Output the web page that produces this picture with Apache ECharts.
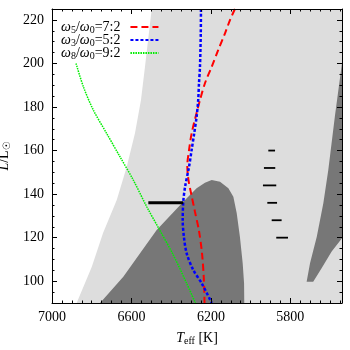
<!DOCTYPE html>
<html><head><meta charset="utf-8">
<script src="https://cdn.jsdelivr.net/npm/echarts@6/dist/echarts.min.js"></script>
<style>html,body{margin:0;padding:0;background:#fff}#c{width:350px;height:350px}</style>
</head><body><div id="c"></div>
<script>
// axis ranges and tick labels
const T_HOT = 7000, T_COOL = 5540;
const L_MIN = 90, L_MAX = 225;
const xTickLabels = [7000, 6600, 6200, 5800];
const yTickLabels = [100, 120, 140, 160, 180, 200, 220];

// light grey region: its left (hot) edge, top to bottom
const lightEdgeTeff = [6498, 6532, 6552, 6582, 6624, 6674, 6743, 6800, 6876];
const lightEdgeLum  = [225, 198.4, 183.2, 168.1, 152.4, 137.3, 122.1, 106.5, 90];

// dark grey central region
const blobTeff = [6758, 6641, 6473, 6339, 6272, 6230, 6196, 6154, 6112, 6087, 6070, 6054, 6040, 6033, 6032];
const blobLum  = [90, 102.1, 123.5, 136.5, 142.7, 145.2, 146.5, 145.7, 142.7, 138.8, 131.2, 120.4, 108.2, 99, 90];

// dark grey right wedge
const wedgeTeff = [5540, 5575, 5609, 5634, 5667, 5701, 5718, 5685, 5642, 5592, 5540];
const wedgeLum  = [200.2, 176.3, 151.1, 135.8, 120.4, 108.2, 99.8, 99.8, 106.1, 113.6, 119.7];

// tracks
const redTeff = [6079, 6104, 6129, 6163, 6196, 6230, 6255, 6277, 6297, 6310, 6319, 6313, 6298, 6280, 6260, 6245, 6236, 6232];
const redLum  = [225, 219.9, 213.8, 206.2, 198.5, 190.9, 183.2, 175.5, 167.9, 160.3, 153, 146.5, 139.6, 131.8, 123.1, 113, 101.9, 90];
const blueTeff = [6250, 6251, 6255, 6260, 6264, 6272, 6284, 6297, 6310, 6330, 6339, 6342, 6336, 6322, 6289, 6246, 6196];
const blueLum  = [225, 214, 198.5, 190.9, 183.2, 175.5, 167.9, 160.3, 152.6, 143.4, 136.5, 128.1, 120.4, 112.8, 105.2, 99, 90];
const greenTeff = [6879, 6842, 6792, 6725, 6658, 6591, 6523, 6461, 6389, 6322, 6278];
const greenLum  = [200, 189.3, 178.6, 167.9, 157.2, 146.5, 134.2, 124, 112, 99, 90];

const seriesNames = ['ω5/ω0=7:2', 'ω3/ω0=5:2', 'ω8/ω0=9:2'];

// thick black bar
const barTeff = [6515, 6339];
const barLum = 136;

// small black ranges
const rangeLum = [160, 152, 144, 136, 128, 120];
const rangeTeffHot = [5911, 5933, 5938, 5916, 5894, 5871];
const rangeTeffCool = [5877, 5876, 5871, 5867, 5844, 5812];

// ---- build ----
const zip = (a, b) => a.map((v, i) => [v, b[i]]);
const SERIF = '"Liberation Serif", "DejaVu Serif", "DejaVu Sans", serif';

const xMinor = []; for (let t = 5550; t <= 7000; t += 50) xMinor.push(t);
const yMinor = []; for (let l = 90; l <= 225; l += 5) yMinor.push(l);

function polygon(points, color, z) {
  return {
    type: 'custom', coordinateSystem: 'cartesian2d', clip: true, silent: true, z: z,
    data: [points[0]],
    renderItem: (params, api) => ({
      type: 'polygon',
      shape: { points: points.map(p => api.coord(p)) },
      style: { fill: color }
    })
  };
}

const lightPoly = zip(lightEdgeTeff, lightEdgeLum).concat([[T_COOL, L_MIN], [T_COOL, L_MAX]]);

const rich = {
  w: { fontFamily: SERIF, fontSize: 14, fontStyle: 'italic', color: '#000', verticalAlign: 'middle', lineHeight: 16 },
  s: { fontFamily: SERIF, fontSize: 10, color: '#000', verticalAlign: 'bottom', lineHeight: 10 },
  n: { fontFamily: SERIF, fontSize: 14, color: '#000', verticalAlign: 'middle', lineHeight: 16 },
  i: { fontFamily: SERIF, fontSize: 14, fontStyle: 'italic', color: '#000', verticalAlign: 'middle', lineHeight: 16 },
  g: { width: 5 }
};
function legendRich(name) {
  const m = name.match(/ω(\d)\/ω(\d)=(.*)/);
  return `{w|ω}{s|${m[1]}}{n|/}{w|ω}{s|${m[2]}}{n|=${m[3]}}{g|}`;
}

const common = { z: 10, splitLine: { show: false } };
function xAx(pos, ticks, len, showLine, labels) {
  return Object.assign({}, common, {
    type: 'value', position: pos, inverse: true, min: T_COOL, max: T_HOT, gridIndex: 0,
    axisLine: { show: showLine, onZero: false, lineStyle: { color: '#000', width: 1 } },
    axisTick: { show: true, inside: true, length: len, customValues: ticks, lineStyle: { color: '#000', width: 1 } },
    axisLabel: labels ? { show: true, customValues: labels, formatter: v => String(v), margin: 7, fontFamily: SERIF, fontSize: 14, color: '#000' } : { show: false }
  });
}
function yAx(pos, ticks, len, showLine, labels) {
  return Object.assign({}, common, {
    type: 'value', position: pos, min: L_MIN, max: L_MAX, gridIndex: 0,
    axisLine: { show: showLine, onZero: false, lineStyle: { color: '#000', width: 1 } },
    axisTick: { show: true, inside: true, length: len, customValues: ticks, lineStyle: { color: '#000', width: 1 } },
    axisLabel: labels ? { show: true, customValues: labels, formatter: v => String(v), margin: 8, fontFamily: SERIF, fontSize: 14, color: '#000' } : { show: false }
  });
}

const xAxes = [
  Object.assign(xAx('bottom', xTickLabels, 5, true, xTickLabels), {
    name: '{i|T}{s|eff} [K]', nameLocation: 'middle', nameGap: 27,
    nameTextStyle: { fontFamily: SERIF, fontSize: 14, color: '#000', rich: rich }
  }),
  xAx('bottom', xMinor, 2.5, false, null),
  xAx('top', xTickLabels, 5, true, null),
  xAx('top', xMinor, 2.5, false, null)
];
const yAxes = [
  Object.assign(yAx('left', yTickLabels, 5, true, yTickLabels), {
    name: '{i|L}{n|/L}{s|☉}', nameLocation: 'middle', nameGap: 27, nameRotate: 90,
    nameTextStyle: { fontFamily: SERIF, fontSize: 14, color: '#000', rich: rich }
  }),
  yAx('left', yMinor, 2.5, false, null),
  yAx('right', yTickLabels, 5, true, null),
  yAx('right', yMinor, 2.5, false, null)
];

function track(name, teff, lum, color, dash, width) {
  return {
    type: 'line', name: name, data: zip(teff, lum), showSymbol: false, symbol: 'none',
    smooth: 0.3, z: 5, silent: true, clip: true,
    lineStyle: { color: color, width: width, type: dash, cap: 'butt' },
    itemStyle: { color: color }
  };
}

const option = {
  animation: false,
  backgroundColor: '#fff',
  grid: { left: 52, right: 8, top: 9, bottom: 47, containLabel: false, outerBoundsMode: 'none' },
  xAxis: xAxes,
  yAxis: yAxes,
  legend: {
    data: seriesNames, orient: 'vertical', left: 61, top: 20, padding: 0,
    align: 'right', itemWidth: 28, itemHeight: 14, itemGap: -2,
    formatter: legendRich,
    itemStyle: { color: 'transparent', borderColor: 'transparent', borderWidth: 0, opacity: 0 },
    textStyle: { fontFamily: SERIF, fontSize: 14, color: '#000', rich: rich },
    selectedMode: false
  },
  series: [
    polygon(lightPoly, '#dddddd', 1),
    polygon(zip(blobTeff, blobLum), '#777777', 2),
    polygon(zip(wedgeTeff, wedgeLum), '#777777', 2),
    track(seriesNames[0], redTeff, redLum, '#ff0000', [7, 4], 2),
    track(seriesNames[1], blueTeff, blueLum, '#0000ff', [3, 2], 2.5),
    track(seriesNames[2], greenTeff, greenLum, '#00ee00', [1.5, 1], 1.5),
    {
      type: 'line', data: zip(barTeff, [barLum, barLum]), showSymbol: false, symbol: 'none', z: 6, silent: true,
      lineStyle: { color: '#000', width: 3 }
    },
    {
      type: 'custom', coordinateSystem: 'cartesian2d', z: 6, silent: true,
      data: rangeLum.map((l, i) => [rangeTeffHot[i], l, rangeTeffCool[i]]),
      encode: { x: 0, y: 1 },
      renderItem: (params, api) => {
        const a = api.coord([api.value(0), api.value(1)]);
        const b = api.coord([api.value(2), api.value(1)]);
        return { type: 'line', shape: { x1: a[0], y1: a[1], x2: b[0], y2: b[1] }, style: { stroke: '#000', lineWidth: 1.8 } };
      }
    }
  ]
};
echarts.init(document.getElementById('c'), null, { renderer: 'canvas' }).setOption(option);
</script></body></html>
